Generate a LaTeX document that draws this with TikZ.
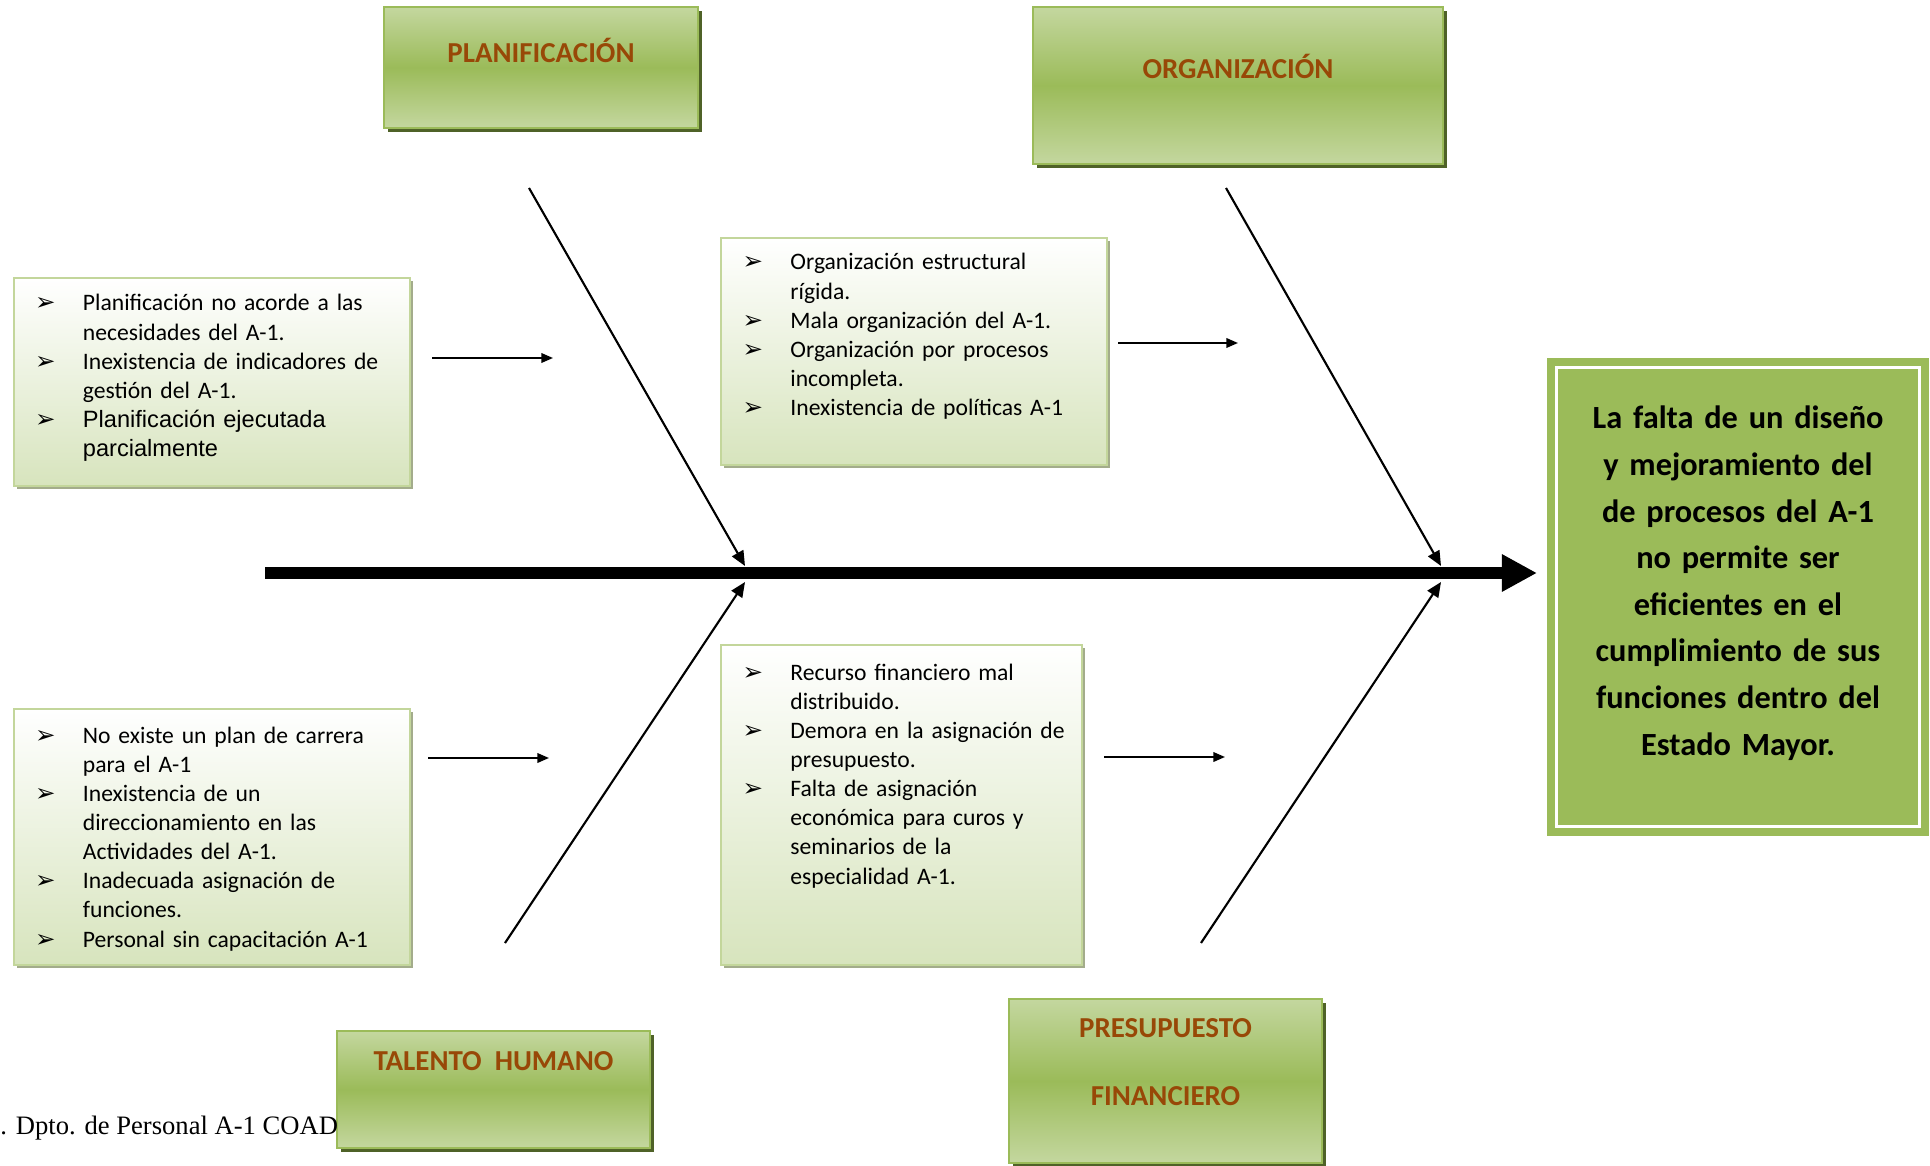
\documentclass[tikz,border=0pt]{standalone}
\usepackage{fontspec}
\setmainfont{Carlito}
\newfontfamily\arialfont{Liberation Sans}
\newfontfamily\timesfont{Liberation Serif}
\newfontfamily\symbfont{DejaVu Sans}
\usetikzlibrary{arrows.meta,shadows}

\definecolor{hdrlight}{HTML}{C4D79F}
\definecolor{hdrmid}{HTML}{9BBB59}
\definecolor{hdrshadow}{HTML}{4F6228}
\definecolor{hdrtext}{HTML}{984807}
\definecolor{boxlow}{HTML}{D7E4BD}
\definecolor{boxedge}{HTML}{C3D69B}
\definecolor{boxshadow}{HTML}{A3AC8B}
\definecolor{effectfill}{HTML}{9BBB59}

% bullet mark hanging to the left of the text column
\newcommand\itmbox{\llap{\hbox to 22.5pt{\symbfont\fontsize{11.5}{11.5}\selectfont ➢\hfil}}}
\newcommand\itm{\par\noindent\itmbox}

\begin{document}
\begin{tikzpicture}[x=0.47pt,y=-0.47pt,
  header/.style={draw=hdrmid, line width=1pt, top color=hdrlight, bottom color=hdrlight,
    middle color=hdrmid, inner sep=0,
    drop shadow={shadow xshift=1.9pt, shadow yshift=-1.9pt, fill=hdrshadow, opacity=1}},
  hlabel/.style={font=\fontsize{13.6}{16}\selectfont\bfseries, text=hdrtext, inner sep=0, anchor=base},
  causebox/.style={draw=boxedge, line width=1.1pt, top color=white, bottom color=boxlow, inner sep=0,
    drop shadow={shadow xshift=1.6pt, shadow yshift=-1.6pt, fill=boxshadow, opacity=1}},
  causetext/.style={anchor=base west, inner sep=0, text width=175pt, align=left,
    font=\fontsize{11.1}{13.7}\selectfont},
  bone/.style={line width=1pt, -{Triangle[length=7pt,width=6pt]}},
  feeder/.style={line width=0.9pt, -{Triangle[length=5.5pt,width=4.5pt]}},
  spine/.style={line width=5.64pt, -{Triangle[length=16.5pt,width=16.5pt]}}
]
\useasboundingbox (0,0) rectangle (1930,1166);

% category headers
\node[header, minimum width=147.6pt, minimum height=56.9pt] (plan) at (541,67.5) {};
\node[hlabel] (planT) at (541,63) {PLANIFICACIÓN};
\node[header, minimum width=192.7pt, minimum height=73.8pt] (org) at (1238,85.5) {};
\node[hlabel] (orgT) at (1238,79) {ORGANIZACIÓN};
\node[header, minimum width=147.1pt, minimum height=55pt] (tal) at (493.5,1089.5) {};
\node[hlabel] (talT) at (493.5,1070) {TALENTO\ \ HUMANO};
\node[header, minimum width=147.1pt, minimum height=77.1pt] (pre) at (1165.5,1081) {};
\node[hlabel] (preT) at (1165.5,1037) {PRESUPUESTO};
\node[hlabel] (finT) at (1165.5,1105) {FINANCIERO};

% cause boxes
\node[causebox, minimum width=186.1pt, minimum height=97.8pt] (c1) at (212,382) {};
\node[causetext] (t1) at (82.5,311) {\itmbox Planificación no acorde a las\newline necesidades del A-1.
\itm Inexistencia de indicadores de\newline gestión del A-1.
\itm {\arialfont Planificación ejecutada\newline parcialmente}};

\node[causebox, minimum width=181.4pt, minimum height=106.7pt] (c2) at (914,351.5) {};
\node[causetext] (t2) at (790,270) {\itmbox Organización estructural\newline rígida.
\itm Mala organización del A-1.
\itm Organización por procesos\newline incompleta.
\itm Inexistencia de políticas A-1};

\node[causebox, minimum width=186.1pt, minimum height=120.3pt] (c3) at (212,837) {};
\node[causetext] (t3) at (82.5,743) {\itmbox No existe un plan de carrera\newline para el A-1
\itm Inexistencia de un\newline direccionamiento en las\newline Actividades del A-1.
\itm Inadecuada asignación de\newline funciones.
\itm Personal sin capacitación A-1};

\node[causebox, minimum width=169.7pt, minimum height=150.4pt] (c4) at (901.5,805) {};
\node[causetext] (t4) at (790,680) {\itmbox Recurso financiero mal\newline distribuido.
\itm Demora en la asignación de\newline presupuesto.
\itm Falta de asignación\newline económica para curos y\newline seminarios de la\newline especialidad A-1.};

% effect box
\node[draw=effectfill, fill=effectfill, line width=1pt, inner sep=0,
      minimum width=178.6pt, minimum height=223.7pt] (eff) at (1738,597) {};
\draw[white, line width=1.4pt] ([shift={(10,10)}]eff.north west) rectangle ([shift={(-10,-10)}]eff.south east);
\node[anchor=base, inner sep=0, text width=175pt, align=center,
      font=\fontsize{15.2}{21.9}\selectfont\bfseries] (effT) at (1738,429) {%
La falta de un diseño\\
y mejoramiento del\\
de procesos del A-1\\
no permite ser\\
eficientes en el\\
cumplimiento de sus\\
funciones dentro del\\
Estado Mayor.};

% spine
\coordinate (spL) at (265,573);
\coordinate (spR) at (1537,573);
\draw[spine] (spL) -- (spR);

% bones
\coordinate (b1s) at (529,188);   \coordinate (b1e) at (745,566);
\coordinate (b2s) at (505,943);   \coordinate (b2e) at (745,582);
\coordinate (b3s) at (1226,188);  \coordinate (b3e) at (1441,566);
\coordinate (b4s) at (1201,943);  \coordinate (b4e) at (1441,582);
\draw[bone] (b1s) -- (b1e);
\draw[bone] (b2s) -- (b2e);
\draw[bone] (b3s) -- (b3e);
\draw[bone] (b4s) -- (b4e);

% short arrows from cause lists toward bones
\coordinate (f1s) at (432,358);  \coordinate (f1e) at (553,358);
\coordinate (f2s) at (1118,343); \coordinate (f2e) at (1238,343);
\coordinate (f3s) at (428,758);  \coordinate (f3e) at (549,758);
\coordinate (f4s) at (1104,757); \coordinate (f4e) at (1225,757);
\draw[feeder] (f1s) -- (f1e);
\draw[feeder] (f2s) -- (f2e);
\draw[feeder] (f3s) -- (f3e);
\draw[feeder] (f4s) -- (f4e);

% source note
\node[anchor=base west, inner sep=0, font=\timesfont\fontsize{12.5}{15}\selectfont] (src) at (0,1134)
  {. Dpto. de Personal A-1 COAD};
\end{tikzpicture}
\end{document}
